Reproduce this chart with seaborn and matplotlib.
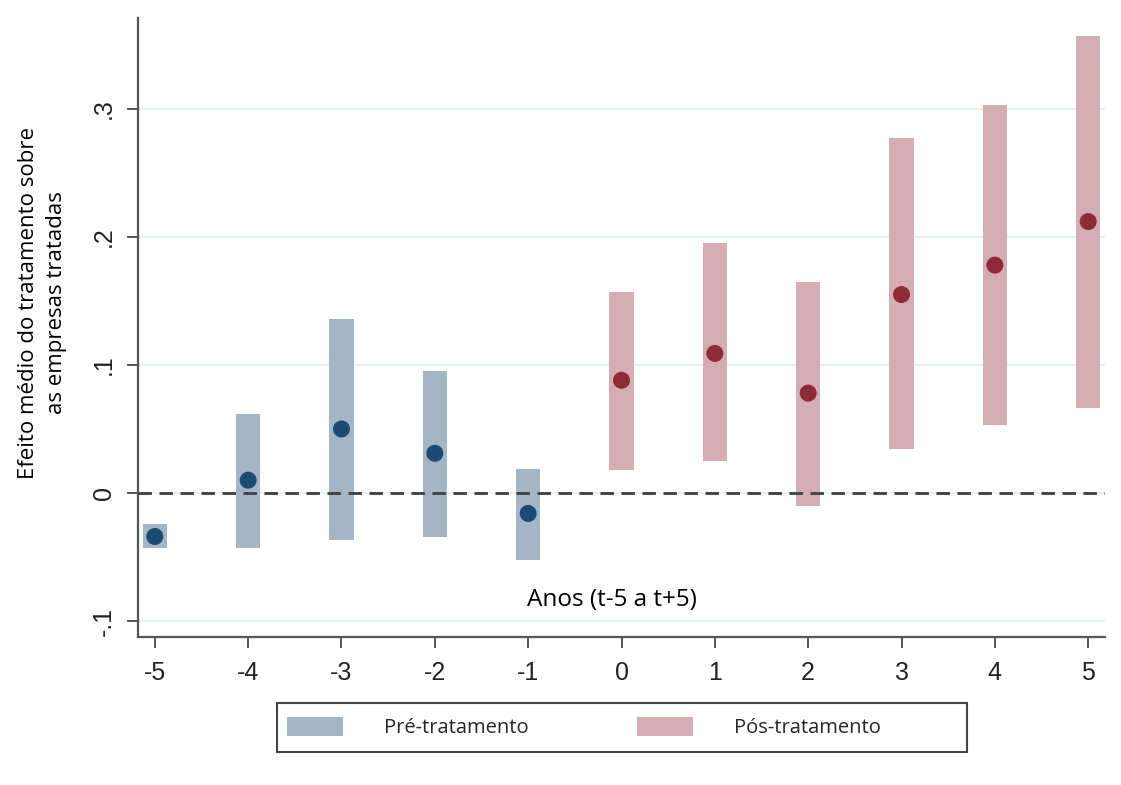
import numpy as np
import pandas as pd
import matplotlib
matplotlib.use("Agg")
import matplotlib.pyplot as plt
import seaborn as sns
from matplotlib.patches import Patch, Rectangle

# ---- data ----
years = [-5, -4, -3, -2, -1, 0, 1, 2, 3, 4, 5]
effect = [-0.034, 0.010, 0.050, 0.031, -0.016, 0.088, 0.109, 0.078, 0.155, 0.178, 0.212]
ci_low = [-0.043, -0.043, -0.037, -0.034, -0.052, 0.018, 0.025, -0.010, 0.034, 0.053, 0.066]
ci_high = [-0.024, 0.062, 0.136, 0.095, 0.019, 0.157, 0.195, 0.165, 0.277, 0.303, 0.357]
period = ["Pré-tratamento"] * 5 + ["Pós-tratamento"] * 6
period_names = ["Pré-tratamento", "Pós-tratamento"]
yticks = [-0.1, 0.0, 0.1, 0.2, 0.3]
ytick_labels = ["-.1", "0", ".1", ".2", ".3"]
xtick_labels = ["-5", "-4", "-3", "-2", "-1", "0", "1", "2", "3", "4", "5"]
xlabel = "Anos (t-5 a t+5)"
ylabel = "Efeito médio do tratamento sobre\nas empresas tratadas"

df = pd.DataFrame({"year": years, "effect": effect, "low": ci_low,
                   "high": ci_high, "period": period})

bar_colors = {"Pré-tratamento": "#a4b5c6", "Pós-tratamento": "#d3adb1"}
dot_colors = {"Pré-tratamento": "#1b4a73", "Pós-tratamento": "#8d2c36"}

sns.set_theme(style="white")
plt.rcParams["font.family"] = ["Liberation Sans", "DejaVu Sans"]
TICKFONT = ["Liberation Sans", "DejaVu Sans"]
TEXTFONT = ["Open Sans", "DejaVu Sans"]

fig = plt.figure(figsize=(11.21, 7.85), dpi=100)
ax = fig.add_axes([138 / 1121, 1 - 637 / 785, 967 / 1121, 619 / 785])

# gridlines
ax.set_axisbelow(True)
ax.yaxis.grid(True, color="#e7eff1", lw=1.6)
ax.xaxis.grid(False)

# confidence-interval bars
ax.bar(df["year"], df["high"] - df["low"], bottom=df["low"], width=0.26,
       color=[bar_colors[p] for p in df["period"]], zorder=2, linewidth=0)

# zero line
ax.axhline(0, color="#444444", lw=2.1, ls=(0, (4.6, 2.6)), zorder=3)

# point estimates
sns.scatterplot(data=df, x="year", y="effect", hue="period", palette=dot_colors,
                s=150, linewidth=0, legend=False, ax=ax, zorder=4)

ax.set_xlim(-5.18, 5.18)
ax.set_ylim(-0.1125, 0.371)
ax.set_xticks(years)
ax.set_xticklabels(xtick_labels, fontfamily=TICKFONT)
ax.set_yticks(yticks)
ax.set_yticklabels(ytick_labels, rotation=90, va="center", fontfamily=TICKFONT)

for s in ["top", "right"]:
    ax.spines[s].set_visible(False)
for s in ["left", "bottom"]:
    ax.spines[s].set_color("#555555")
    ax.spines[s].set_linewidth(1.6)

ax.tick_params(axis="both", bottom=True, left=True, length=8, width=1.4,
               color="#555555", labelsize=18, labelcolor="#222222")
ax.tick_params(axis="x", pad=9)
ax.tick_params(axis="y", pad=8)

ax.set_xlabel("")
ax.set_ylabel(ylabel, fontsize=16, family=TEXTFONT,
              color="#000000", linespacing=1.45)
ax.yaxis.set_label_coords(-0.073, 0.54)

ax.text(-0.1, -0.0836, xlabel, ha="center", va="center", fontsize=17.5,
        family=TEXTFONT, color="#000000", zorder=2,
        bbox=dict(facecolor="white", edgecolor="none", pad=2))

# legend
fig.patches.append(Rectangle((277 / 1121, 1 - 752 / 785), 690 / 1121, 49 / 785,
                             transform=fig.transFigure, facecolor="white",
                             edgecolor="#444444", lw=1.5, zorder=0))
handles = [Patch(facecolor=bar_colors[p], edgecolor="none") for p in period_names]
fig.legend(handles, period_names, loc="center left",
           bbox_to_anchor=(287 / 1121, 1 - 727.5 / 785), ncol=2, frameon=False,
           borderpad=0, borderaxespad=0, handlelength=2.8, handleheight=1.1,
           handletextpad=2.0, columnspacing=5.4,
           prop={"family": TEXTFONT, "size": 14.5})

fig.savefig("out.png", dpi=100)
